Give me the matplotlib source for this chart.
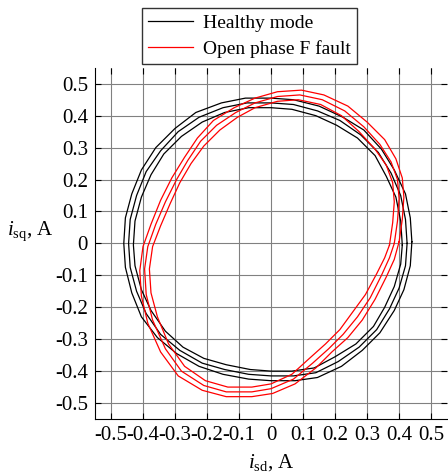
import numpy as np
import matplotlib.pyplot as plt

plt.rcParams.update({
    'font.family': 'serif',
    'font.serif': ['Liberation Serif'],
    'mathtext.fontset': 'custom',
    'mathtext.rm': 'Liberation Serif',
    'mathtext.it': 'Liberation Serif:italic',
    'font.size': 15,
    'xtick.direction': 'in',
    'ytick.direction': 'in',
    'xtick.top': True,
    'ytick.right': True,
})

# healthy mode: three loops of (isd, isq)
healthy_mid = [
    (0.425, 0.00), (0.42, 0.075), (0.405, 0.15), (0.375, 0.22), (0.335, 0.285),
    (0.28, 0.34), (0.215, 0.385), (0.145, 0.415), (0.07, 0.435), (0.00, 0.44),
    (-0.075, 0.44), (-0.15, 0.425), (-0.225, 0.395), (-0.29, 0.35), (-0.345, 0.29),
    (-0.39, 0.225), (-0.42, 0.15), (-0.44, 0.075), (-0.445, 0.00), (-0.44, -0.075),
    (-0.42, -0.15), (-0.39, -0.22), (-0.345, -0.285), (-0.285, -0.335), (-0.215, -0.375),
    (-0.145, -0.395), (-0.07, -0.41), (0.00, -0.415), (0.07, -0.415), (0.14, -0.405),
    (0.21, -0.37), (0.275, -0.325), (0.33, -0.27), (0.37, -0.205), (0.40, -0.14),
    (0.42, -0.07), (0.425, 0.00),
]
healthy_out = [
    (0.44, 0.005), (0.435, 0.08), (0.42, 0.155), (0.385, 0.23), (0.345, 0.295),
    (0.29, 0.355), (0.225, 0.395), (0.15, 0.43), (0.07, 0.45), (0.00, 0.455),
    (-0.08, 0.455), (-0.155, 0.44), (-0.235, 0.41), (-0.30, 0.36), (-0.36, 0.30),
    (-0.405, 0.23), (-0.435, 0.155), (-0.455, 0.08), (-0.46, 0.00), (-0.455, -0.075),
    (-0.435, -0.155), (-0.405, -0.23), (-0.355, -0.295), (-0.295, -0.345), (-0.225, -0.385),
    (-0.15, -0.41), (-0.07, -0.425), (0.00, -0.43), (0.075, -0.43), (0.145, -0.42),
    (0.22, -0.385), (0.285, -0.335), (0.34, -0.28), (0.385, -0.21), (0.415, -0.145),
    (0.435, -0.07), (0.44, 0.005),
]
healthy_in = [
    (0.41, -0.005), (0.405, 0.07), (0.39, 0.145), (0.36, 0.21), (0.325, 0.275),
    (0.27, 0.33), (0.205, 0.37), (0.14, 0.40), (0.065, 0.42), (0.00, 0.425),
    (-0.07, 0.425), (-0.145, 0.41), (-0.215, 0.38), (-0.28, 0.335), (-0.335, 0.28),
    (-0.375, 0.215), (-0.405, 0.145), (-0.425, 0.07), (-0.43, -0.005), (-0.425, -0.07),
    (-0.405, -0.145), (-0.375, -0.21), (-0.33, -0.275), (-0.275, -0.325), (-0.21, -0.36),
    (-0.14, -0.38), (-0.065, -0.395), (0.00, -0.40), (0.065, -0.40), (0.135, -0.39),
    (0.20, -0.355), (0.265, -0.315), (0.32, -0.26), (0.355, -0.20), (0.385, -0.135),
    (0.405, -0.065), (0.41, -0.005),
]

# open phase F fault: three loops
fault_mid = [
    (0.385, 0.00), (0.395, 0.07), (0.40, 0.14), (0.395, 0.20), (0.375, 0.255),
    (0.34, 0.31), (0.29, 0.365), (0.23, 0.415), (0.16, 0.45), (0.09, 0.465),
    (0.02, 0.46), (-0.05, 0.44), (-0.11, 0.41), (-0.17, 0.37), (-0.22, 0.32),
    (-0.26, 0.26), (-0.295, 0.20), (-0.33, 0.13), (-0.36, 0.06), (-0.385, -0.01),
    (-0.395, -0.08), (-0.39, -0.16), (-0.37, -0.24), (-0.33, -0.33), (-0.28, -0.40),
    (-0.21, -0.445), (-0.14, -0.465), (-0.06, -0.465), (0.00, -0.455), (0.07, -0.425),
    (0.13, -0.375), (0.18, -0.33), (0.225, -0.285), (0.27, -0.23), (0.31, -0.17),
    (0.345, -0.10), (0.37, -0.045), (0.385, 0.00),
]
fault_out = [
    (0.40, 0.005), (0.41, 0.075), (0.415, 0.145), (0.41, 0.205), (0.39, 0.265),
    (0.355, 0.325), (0.30, 0.38), (0.24, 0.43), (0.165, 0.465), (0.095, 0.48),
    (0.02, 0.475), (-0.05, 0.455), (-0.115, 0.425), (-0.18, 0.385), (-0.23, 0.33),
    (-0.27, 0.27), (-0.31, 0.205), (-0.345, 0.135), (-0.375, 0.06), (-0.40, -0.01),
    (-0.41, -0.085), (-0.405, -0.165), (-0.385, -0.25), (-0.345, -0.34), (-0.29, -0.415),
    (-0.215, -0.46), (-0.14, -0.48), (-0.06, -0.48), (0.005, -0.47), (0.075, -0.44),
    (0.14, -0.39), (0.19, -0.34), (0.24, -0.295), (0.285, -0.24), (0.325, -0.175),
    (0.36, -0.105), (0.385, -0.05), (0.40, 0.005),
]
fault_in = [
    (0.37, -0.005), (0.38, 0.065), (0.385, 0.13), (0.38, 0.19), (0.36, 0.245),
    (0.325, 0.295), (0.275, 0.35), (0.22, 0.40), (0.155, 0.435), (0.085, 0.45),
    (0.02, 0.445), (-0.05, 0.425), (-0.105, 0.395), (-0.16, 0.355), (-0.21, 0.305),
    (-0.25, 0.25), (-0.285, 0.19), (-0.315, 0.125), (-0.345, 0.055), (-0.37, -0.01),
    (-0.38, -0.08), (-0.375, -0.155), (-0.355, -0.23), (-0.32, -0.315), (-0.27, -0.385),
    (-0.205, -0.43), (-0.135, -0.45), (-0.06, -0.45), (0.00, -0.44), (0.065, -0.41),
    (0.12, -0.36), (0.17, -0.315), (0.215, -0.27), (0.255, -0.215), (0.295, -0.16),
    (0.33, -0.095), (0.355, -0.045), (0.37, -0.005),
]

healthy = [healthy_mid, healthy_out, healthy_in]
fault = [fault_mid, fault_out, fault_in]
ticks = np.round(np.arange(-0.5, 0.51, 0.1), 1)
tick_labels = ['-0.5', '-0.4', '-0.3', '-0.2', '-0.1', '0', '0.1', '0.2', '0.3', '0.4', '0.5']

fig = plt.figure(figsize=(4.48, 4.74), dpi=100)
ax = fig.add_axes([0.212, 0.116, 0.786, 0.741])

for i, loop in enumerate(healthy):
    pts = np.array(loop)
    ax.plot(pts[:, 0], pts[:, 1], color='black', lw=0.9,
            label='Healthy mode' if i == 0 else None)
for i, loop in enumerate(fault):
    pts = np.array(loop)
    ax.plot(pts[:, 0], pts[:, 1], color='red', lw=0.9,
            label='Open phase F fault' if i == 0 else None)

ax.set_xlim(-0.55, 0.55)
ax.set_ylim(-0.55, 0.55)
ax.set_xticks(ticks)
ax.set_xticklabels(tick_labels)
ax.set_yticks(ticks)
ax.set_yticklabels(tick_labels)
ax.tick_params(length=4, width=0.8, pad=5)
ax.grid(color='0.5', lw=0.8)
ax.spines['top'].set_visible(False)
ax.spines['right'].set_visible(False)

ax.set_xlabel(r'$\mathit{i}_{\mathrm{sd}}$, A', labelpad=5)
ax.set_ylabel(r'$\mathit{i}_{\mathrm{sq}}$, A', rotation=0)
ax.yaxis.set_label_coords(-0.185, 0.5)

leg = fig.legend(loc='upper left', bbox_to_anchor=(0.317, 0.983), frameon=True,
                 fancybox=False, edgecolor='black', handlelength=2.3, fontsize=14,
                 borderpad=0.3, borderaxespad=0, labelspacing=0.45, handletextpad=0.55)
leg.get_frame().set_linewidth(1.0)

fig.savefig('out.png', dpi=100)
